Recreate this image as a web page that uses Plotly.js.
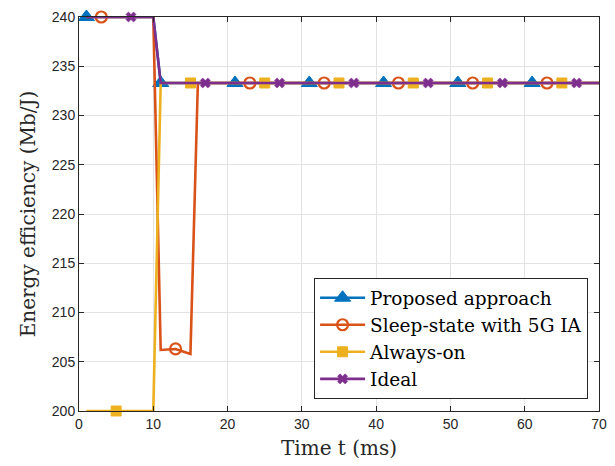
<!DOCTYPE html>
<html><head><meta charset="utf-8">
<script src="https://cdn.plot.ly/plotly-3.0.1.min.js"></script>
<style>html,body{margin:0;padding:0;background:#fff}#chart{width:615px;height:466px}</style>
</head><body><div id="chart"></div>
<script>
const timeMs = [1,2,3,4,5,6,7,8,9,10,11,12,13,14,15,16,17,18,19,20,21,22,23,24,25,26,27,28,29,30,31,32,33,34,35,36,37,38,39,40,41,42,43,44,45,46,47,48,49,50,51,52,53,54,55,56,57,58,59,60,61,62,63,64,65,66,67,68,69,70];
const proposed = [240,240,240,240,240,240,240,240,240,240,233.3,233.3,233.3,233.3,233.3,233.3,233.3,233.3,233.3,233.3,233.3,233.3,233.3,233.3,233.3,233.3,233.3,233.3,233.3,233.3,233.3,233.3,233.3,233.3,233.3,233.3,233.3,233.3,233.3,233.3,233.3,233.3,233.3,233.3,233.3,233.3,233.3,233.3,233.3,233.3,233.3,233.3,233.3,233.3,233.3,233.3,233.3,233.3,233.3,233.3,233.3,233.3,233.3,233.3,233.3,233.3,233.3,233.3,233.3,233.3];
const sleepState = [240,240,240,240,240,240,240,240,240,240,206.2,206.25,206.3,206.05,205.8,233.3,233.3,233.3,233.3,233.3,233.3,233.3,233.3,233.3,233.3,233.3,233.3,233.3,233.3,233.3,233.3,233.3,233.3,233.3,233.3,233.3,233.3,233.3,233.3,233.3,233.3,233.3,233.3,233.3,233.3,233.3,233.3,233.3,233.3,233.3,233.3,233.3,233.3,233.3,233.3,233.3,233.3,233.3,233.3,233.3,233.3,233.3,233.3,233.3,233.3,233.3,233.3,233.3,233.3,233.3];
const alwaysOn = [200,200,200,200,200,200,200,200,200,200,233.3,233.3,233.3,233.3,233.3,233.3,233.3,233.3,233.3,233.3,233.3,233.3,233.3,233.3,233.3,233.3,233.3,233.3,233.3,233.3,233.3,233.3,233.3,233.3,233.3,233.3,233.3,233.3,233.3,233.3,233.3,233.3,233.3,233.3,233.3,233.3,233.3,233.3,233.3,233.3,233.3,233.3,233.3,233.3,233.3,233.3,233.3,233.3,233.3,233.3,233.3,233.3,233.3,233.3,233.3,233.3,233.3,233.3,233.3,233.3];
const ideal = [240,240,240,240,240,240,240,240,240,240,233.3,233.3,233.3,233.3,233.3,233.3,233.3,233.3,233.3,233.3,233.3,233.3,233.3,233.3,233.3,233.3,233.3,233.3,233.3,233.3,233.3,233.3,233.3,233.3,233.3,233.3,233.3,233.3,233.3,233.3,233.3,233.3,233.3,233.3,233.3,233.3,233.3,233.3,233.3,233.3,233.3,233.3,233.3,233.3,233.3,233.3,233.3,233.3,233.3,233.3,233.3,233.3,233.3,233.3,233.3,233.3,233.3,233.3,233.3,233.3];
// indices (0-based) of points that carry a marker
const proposedMarks = [0,10,20,30,40,50,60];
const sleepMarks = [2,12,22,32,42,52,62];
const alwaysMarks = [4,14,24,34,44,54,64];
const idealMarks = [6,16,26,36,46,56,66];
const seriesNames = ['Proposed approach','Sleep-state with 5G IA','Always-on','Ideal'];

const serif = 'DejaVu Serif, Liberation Serif, serif';
const lw = 2.6;
function mk(name, y, color, marks, marker){
  return {x: timeMs, y: y, name: name, type: 'scatter', mode: 'lines+markers', cliponaxis: false,
    line: {color: color, width: lw}, marker: marker,
    selectedpoints: marks, unselected: {marker: {opacity: 0}}, selected: {marker: {opacity: 1}}};
}
const traces = [
  mk(seriesNames[0], proposed, '#0072BD', proposedMarks, {symbol: 'triangle-up', size: 14, color: '#0072BD', line: {color: '#0072BD', width: 1}}),
  mk(seriesNames[1], sleepState, '#D95319', sleepMarks, {symbol: 'circle-open', size: 11, color: '#D95319', line: {color: '#D95319', width: 2.2}}),
  mk(seriesNames[2], alwaysOn, '#EDB120', alwaysMarks, {symbol: 'square', size: 10, color: '#EDB120', line: {color: '#EDB120', width: 1}}),
  mk(seriesNames[3], ideal, '#7E2F8E', idealMarks, {symbol: 'x', size: 9, color: '#7E2F8E', line: {color: '#7E2F8E', width: 0.5}})
];
const axisCommon = {showline: true, mirror: 'ticks', linecolor: '#262626', linewidth: 1, ticks: 'inside', ticklen: 5, tickcolor: '#262626',
  showgrid: true, gridcolor: '#e3e3e3', gridwidth: 1, zeroline: false,
  tickfont: {family: 'Liberation Sans, Arial, sans-serif', size: 14, color: '#262626'}};
const layout = {
  width: 615, height: 466,
  margin: {l: 79, r: 16, t: 17, b: 55},
  paper_bgcolor: '#fff', plot_bgcolor: '#fff',
  xaxis: Object.assign({}, axisCommon, {range: [0, 70], dtick: 10, tick0: 0,
    title: {text: 'Time t (ms)', font: {family: serif, size: 20, color: '#262626'}, standoff: 10}}),
  yaxis: Object.assign({}, axisCommon, {range: [200, 240], dtick: 5, tick0: 200,
    title: {text: 'Energy efficiency (Mb/J)', font: {family: serif, size: 20, color: '#262626'}, standoff: 10}}),
  showlegend: true,
  legend: {x: 0.979, y: 0.03, xanchor: 'right', yanchor: 'bottom', bgcolor: '#fff', bordercolor: '#262626', borderwidth: 1,
    font: {family: serif, size: 18.5, color: '#000'}, itemwidth: 45, tracegroupgap: 0}
};
Plotly.newPlot('chart', traces, layout, {displayModeBar: false, staticPlot: true});
</script></body></html>
